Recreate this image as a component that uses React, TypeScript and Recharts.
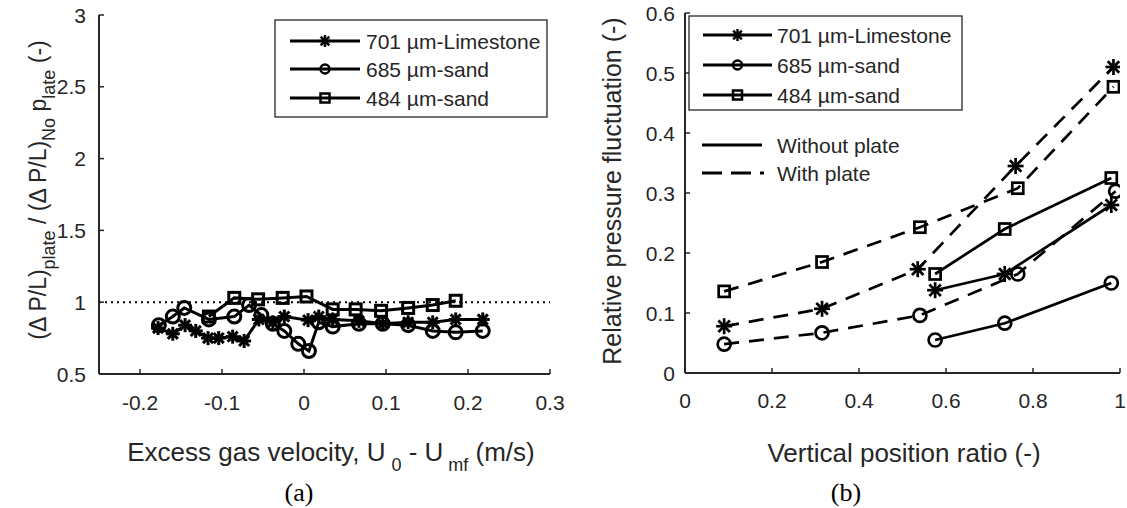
import React from "react";
import { LineChart, Line, XAxis, YAxis, ReferenceLine } from "recharts";

// (a) pressure-drop ratio vs excess gas velocity
const velLimestone = [-0.178, -0.16, -0.145, -0.132, -0.117, -0.104, -0.087, -0.073, -0.055, -0.038, -0.024, 0.005, 0.018, 0.035, 0.067, 0.096, 0.127, 0.157, 0.185, 0.218];
const ratioLimestone = [0.82, 0.78, 0.84, 0.8, 0.75, 0.75, 0.76, 0.73, 0.88, 0.86, 0.9, 0.875, 0.9, 0.88, 0.87, 0.85, 0.86, 0.86, 0.88, 0.88];
const velSand685 = [-0.177, -0.16, -0.146, -0.116, -0.085, -0.067, -0.052, -0.038, -0.024, -0.007, 0.006, 0.018, 0.035, 0.067, 0.096, 0.127, 0.157, 0.185, 0.218];
const ratioSand685 = [0.84, 0.9, 0.96, 0.88, 0.9, 0.98, 0.91, 0.85, 0.8, 0.71, 0.66, 0.86, 0.83, 0.85, 0.85, 0.84, 0.8, 0.79, 0.8];
const velSand484 = [-0.116, -0.085, -0.056, -0.026, 0.003, 0.035, 0.063, 0.094, 0.127, 0.157, 0.185];
const ratioSand484 = [0.9, 1.03, 1.02, 1.03, 1.04, 0.95, 0.95, 0.94, 0.96, 0.98, 1.01];

const velTicks = [-0.2, -0.1, 0, 0.1, 0.2, 0.3];
const ratioTicks = [0.5, 1, 1.5, 2, 2.5, 3];

// (b) relative pressure fluctuation vs vertical position
const posWithLimestone = [0.09, 0.315, 0.535, 0.76, 0.985];
const fluctWithLimestone = [0.078, 0.107, 0.173, 0.345, 0.51];
const posWith685 = [0.09, 0.315, 0.54, 0.765, 0.99];
const fluctWith685 = [0.048, 0.067, 0.096, 0.165, 0.303];
const posWith484 = [0.09, 0.315, 0.54, 0.765, 0.985];
const fluctWith484 = [0.136, 0.185, 0.243, 0.308, 0.477];
const posWithout = [0.575, 0.735, 0.98];
const fluctWithoutLimestone = [0.138, 0.165, 0.28];
const fluctWithout685 = [0.055, 0.083, 0.15];
const fluctWithout484 = [0.165, 0.24, 0.325];

const posTicks = [0, 0.2, 0.4, 0.6, 0.8, 1];
const fluctTicks = [0, 0.1, 0.2, 0.3, 0.4, 0.5, 0.6];

const legendNames = ["701 µm-Limestone", "685 µm-sand", "484 µm-sand"];

const FONT = '"Liberation Sans", Arial, sans-serif';
const SERIF = '"Liberation Serif", "Times New Roman", serif';
const INK = "#262626";
const TICK_LEN = 5;
const DASH = "15 10";

const zip = (xs: number[], ys: number[]) => xs.map((x, i) => ({ x, y: ys[i] }));

type Mk = "star" | "circle" | "square";

function Marker({ kind, cx, cy, s, w }: { kind: Mk; cx: number; cy: number; s: number; w: number }) {
  if (kind === "star") {
    const d = s * 0.72;
    return (
      <g stroke="#000" strokeWidth={w}>
        <line x1={cx - s} y1={cy} x2={cx + s} y2={cy} />
        <line x1={cx} y1={cy - s} x2={cx} y2={cy + s} />
        <line x1={cx - d} y1={cy - d} x2={cx + d} y2={cy + d} />
        <line x1={cx - d} y1={cy + d} x2={cx + d} y2={cy - d} />
      </g>
    );
  }
  if (kind === "circle") {
    return <circle cx={cx} cy={cy} r={s} fill="none" stroke="#000" strokeWidth={w} />;
  }
  return <rect x={cx - s} y={cy - s} width={s * 2} height={s * 2} fill="none" stroke="#000" strokeWidth={w} />;
}

const dotFor = (kind: Mk, s: number, w: number) => (p: any) => (
  <Marker key={`${kind}-${p.index}`} kind={kind} cx={p.cx} cy={p.cy} s={s} w={w} />
);

// inward ticks, MATLAB style
const bottomTick = (margin: number) => (p: any) => (
  <g>
    <line x1={p.x} x2={p.x} y1={p.y - margin} y2={p.y - margin - TICK_LEN} stroke={INK} strokeWidth={1.5} />
    <text x={p.x} y={p.y} dy="0.72em" textAnchor="middle" fill={INK} fontFamily={FONT} fontSize={21}>
      {String(p.payload.value)}
    </text>
  </g>
);
const leftTick = (margin: number) => (p: any) => (
  <g>
    <line x1={p.x + margin} x2={p.x + margin + TICK_LEN} y1={p.y} y2={p.y} stroke={INK} strokeWidth={1.5} />
    <text x={p.x} y={p.y} dy="0.36em" textAnchor="end" fill={INK} fontFamily={FONT} fontSize={21}>
      {String(p.payload.value)}
    </text>
  </g>
);
const topTick = (p: any) => (
  <line x1={p.x} x2={p.x} y1={p.y} y2={p.y + TICK_LEN} stroke={INK} strokeWidth={1.5} />
);
const rightTick = (p: any) => (
  <line x1={p.x} x2={p.x - TICK_LEN} y1={p.y} y2={p.y} stroke={INK} strokeWidth={1.5} />
);

const axisLine = { stroke: INK, strokeWidth: 2 };

function PanelA() {
  const series: { data: { x: number; y: number }[]; kind: Mk; s: number }[] = [
    { data: zip(velLimestone, ratioLimestone), kind: "star", s: 7 },
    { data: zip(velSand685, ratioSand685), kind: "circle", s: 6.5 },
    { data: zip(velSand484, ratioSand484), kind: "square", s: 5.5 },
  ];
  return (
    <LineChart width={565} height={508} margin={{ top: 15, right: 15, bottom: 104, left: 39 }}>
      <XAxis xAxisId="b" dataKey="x" type="number" domain={[-0.25, 0.3]} ticks={velTicks} allowDataOverflow
        height={30} tickSize={0} tickMargin={21} tickLine={false} axisLine={axisLine} tick={bottomTick(21)} />
      <XAxis xAxisId="t" orientation="top" dataKey="x" type="number" domain={[-0.25, 0.3]} ticks={velTicks} allowDataOverflow
        height={0} tickSize={0} tickMargin={0} tickLine={false} axisLine={axisLine} tick={topTick} />
      <YAxis yAxisId="l" type="number" domain={[0.5, 3]} ticks={ratioTicks} allowDataOverflow
        width={60} tickSize={0} tickMargin={13} tickLine={false} axisLine={axisLine} tick={leftTick(13)} />
      <YAxis yAxisId="r" orientation="right" type="number" domain={[0.5, 3]} ticks={ratioTicks} allowDataOverflow
        width={0} tickSize={0} tickMargin={0} tickLine={false} axisLine={axisLine} tick={rightTick} />
      <ReferenceLine xAxisId="b" yAxisId="l" y={1} stroke="#000" strokeWidth={2} strokeDasharray="2 4" />
      <Line xAxisId="t" yAxisId="r" data={series[2].data} dataKey="y" stroke="none" dot={false} isAnimationActive={false} legendType="none" />
      {series.map((s) => (
        <Line key={s.kind} xAxisId="b" yAxisId="l" data={s.data} dataKey="y" type="linear" stroke="#000" strokeWidth={3}
          dot={dotFor(s.kind, s.s, 3)} activeDot={false} isAnimationActive={false} />
      ))}
    </LineChart>
  );
}

function PanelB() {
  const series: { data: { x: number; y: number }[]; kind: Mk; dash?: string; s: number }[] = [
    { data: zip(posWithLimestone, fluctWithLimestone), kind: "star", dash: DASH, s: 8 },
    { data: zip(posWith685, fluctWith685), kind: "circle", dash: DASH, s: 6.5 },
    { data: zip(posWith484, fluctWith484), kind: "square", dash: DASH, s: 5.5 },
    { data: zip(posWithout, fluctWithoutLimestone), kind: "star", s: 8 },
    { data: zip(posWithout, fluctWithout685), kind: "circle", s: 6.5 },
    { data: zip(posWithout, fluctWithout484), kind: "square", s: 5.5 },
  ];
  return (
    <LineChart width={562} height={508} margin={{ top: 13, right: 7, bottom: 105, left: 60 }}>
      <XAxis xAxisId="b" dataKey="x" type="number" domain={[0, 1]} ticks={posTicks} allowDataOverflow
        height={30} tickSize={0} tickMargin={20} tickLine={false} axisLine={axisLine} tick={bottomTick(20)} />
      <XAxis xAxisId="t" orientation="top" dataKey="x" type="number" domain={[0, 1]} ticks={posTicks} allowDataOverflow
        height={0} tickSize={0} tickMargin={0} tickLine={false} axisLine={axisLine} tick={topTick} />
      <YAxis yAxisId="l" type="number" domain={[0, 0.6]} ticks={fluctTicks} allowDataOverflow
        width={60} tickSize={0} tickMargin={10} tickLine={false} axisLine={axisLine} tick={leftTick(10)} />
      <YAxis yAxisId="r" orientation="right" type="number" domain={[0, 0.6]} ticks={fluctTicks} allowDataOverflow
        width={0} tickSize={0} tickMargin={0} tickLine={false} axisLine={axisLine} tick={rightTick} />
      <Line xAxisId="t" yAxisId="r" data={series[0].data} dataKey="y" stroke="none" dot={false} isAnimationActive={false} legendType="none" />
      {series.map((s, i) => (
        <Line key={i} xAxisId="b" yAxisId="l" data={s.data} dataKey="y" type="linear" stroke="#000" strokeWidth={2.7}
          strokeDasharray={s.dash} dot={dotFor(s.kind, s.s, 2.7)} activeDot={false} isAnimationActive={false} />
      ))}
    </LineChart>
  );
}

const kinds: Mk[] = ["star", "circle", "square"];

function LegendBox({ x, y, w, h, rowY, lineX1, lineX2, textX }: any) {
  return (
    <g>
      <rect x={x} y={y} width={w} height={h} fill="#fff" stroke={INK} strokeWidth={1.3} />
      {legendNames.map((name, i) => (
        <g key={name}>
          <line x1={lineX1} x2={lineX2} y1={rowY[i]} y2={rowY[i]} stroke="#000" strokeWidth={3} />
          <Marker kind={kinds[i]} cx={(lineX1 + lineX2) / 2} cy={rowY[i]} s={kinds[i] === "star" ? 6 : 4.5} w={2.5} />
          <text x={textX} y={rowY[i]} dy="0.36em" fill={INK} fontFamily={FONT} fontSize={21}>{name}</text>
        </g>
      ))}
    </g>
  );
}

function Overlay() {
  const sub = { fontSize: 18 };
  return (
    <svg width={1127} height={508} style={{ position: "absolute", left: 0, top: 0, pointerEvents: "none" }}>
      <LegendBox x={275} y={20} w={272} h={97} rowY={[41, 69, 98]} lineX1={290} lineX2={360} textX={366} />
      <LegendBox x={689} y={16} w={273} h={94} rowY={[35, 65, 95]} lineX1={703} lineX2={772} textX={777} />
      <line x1={702} x2={762} y1={145} y2={145} stroke="#000" strokeWidth={3} />
      <text x={777} y={145} dy="0.36em" fill={INK} fontFamily={FONT} fontSize={21}>Without plate</text>
      <line x1={702} x2={764} y1={173} y2={173} stroke="#000" strokeWidth={3} strokeDasharray="20 9" />
      <text x={777} y={173} dy="0.36em" fill={INK} fontFamily={FONT} fontSize={21}>With plate</text>

      <text x={331} y={461} textAnchor="middle" fill={INK} fontFamily={FONT} fontSize={26}>
        Excess gas velocity, U<tspan dx={6} dy={10} {...sub}>0</tspan>
        <tspan dy={-10}> - U</tspan><tspan dx={5} dy={10} {...sub}>mf</tspan><tspan dy={-10}> (m/s)</tspan>
      </text>
      <text x={904} y={462} textAnchor="middle" fill={INK} fontFamily={FONT} fontSize={26}>Vertical position ratio (-)</text>
      <text x={299} y={501} textAnchor="middle" fill="#000" fontFamily={SERIF} fontSize={26}>(a)</text>
      <text x={846} y={501} textAnchor="middle" fill="#000" fontFamily={SERIF} fontSize={26}>(b)</text>

      <text transform="translate(46,190) rotate(-90)" textAnchor="middle" fill={INK} fontFamily={FONT} fontSize={23}>
        (Δ P/L)<tspan dy={9} {...sub}>plate</tspan><tspan dy={-9}> / (Δ P/L)</tspan>
        <tspan dy={9} {...sub}>No</tspan><tspan dy={-9}> p</tspan><tspan dy={9} {...sub}>late</tspan>
        <tspan dy={-9}> (-)</tspan>
      </text>
      <text transform="translate(621,191) rotate(-90)" textAnchor="middle" fill={INK} fontFamily={FONT} fontSize={25}>
        Relative pressure fluctuation (-)
      </text>
    </svg>
  );
}

export default function App() {
  return (
    <div style={{ position: "absolute", left: 0, top: 0, width: 1127, height: 508, background: "#fff" }}>
      <div style={{ position: "absolute", left: 0, top: 0 }}>
        <PanelA />
      </div>
      <div style={{ position: "absolute", left: 565, top: 0 }}>
        <PanelB />
      </div>
      <Overlay />
    </div>
  );
}
